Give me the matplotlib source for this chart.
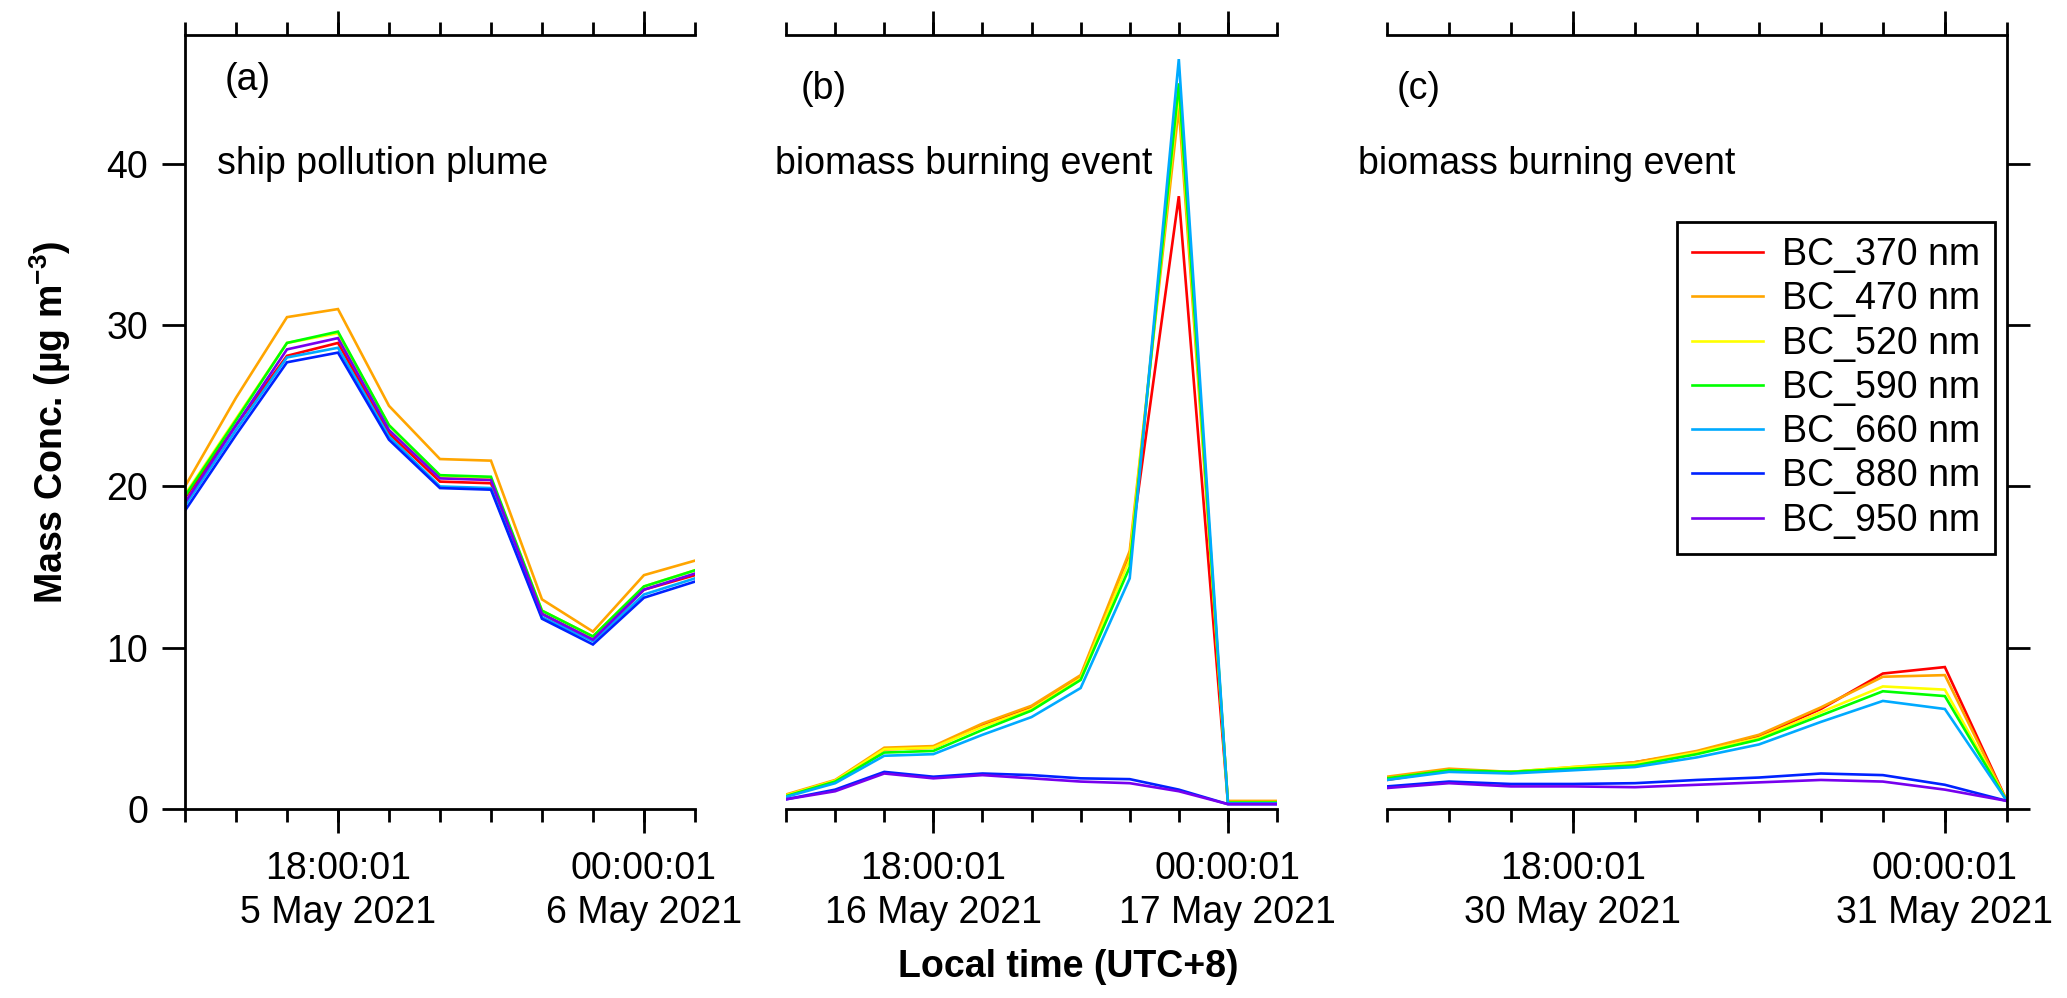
import matplotlib
matplotlib.use('Agg')
import matplotlib.pyplot as plt
import matplotlib.dates as mdates
from matplotlib import font_manager
import pandas as pd

# ---------------- data ----------------
wavelengths = ["BC_370 nm", "BC_470 nm", "BC_520 nm", "BC_590 nm", "BC_660 nm", "BC_880 nm", "BC_950 nm"]
colors = ["#FF0000", "#FFA500", "#FFFF00", "#00FF00", "#00AAFF", "#0022FF", "#7700EE"]

times_a = pd.date_range("2021-05-05 15:00", periods=11, freq="h")
times_b = pd.date_range("2021-05-16 15:00", periods=11, freq="h")
times_c = pd.date_range("2021-05-30 15:00", periods=11, freq="h")

bc370_a = [19.3, 23.8, 28.1, 28.9, 23.3, 20.3, 20.2, 12.1, 10.5, 13.6, 14.5]
bc470_a = [20.0, 25.5, 30.5, 31.0, 25.0, 21.7, 21.6, 13.0, 11.0, 14.5, 15.4]
bc520_a = [19.5, 24.2, 28.9, 29.5, 23.8, 20.6, 20.5, 12.3, 10.7, 13.8, 14.8]
bc590_a = [19.4, 24.1, 28.9, 29.6, 23.8, 20.7, 20.6, 12.3, 10.7, 13.8, 14.8]
bc660_a = [18.8, 23.5, 28.0, 28.6, 23.1, 20.0, 19.9, 11.9, 10.4, 13.3, 14.3]
bc880_a = [18.5, 23.2, 27.7, 28.3, 22.9, 19.9, 19.8, 11.8, 10.2, 13.1, 14.1]
bc950_a = [19.0, 23.8, 28.5, 29.2, 23.5, 20.5, 20.4, 12.1, 10.5, 13.6, 14.6]

bc370_b = [0.8, 1.7, 3.7, 3.8, 5.2, 6.3, 8.2, 15.8, 38.0, 0.4, 0.4]
bc470_b = [0.9, 1.8, 3.8, 3.9, 5.3, 6.4, 8.3, 16.0, 43.5, 0.5, 0.5]
bc520_b = [0.85, 1.75, 3.7, 3.8, 5.1, 6.2, 8.1, 15.5, 44.5, 0.4, 0.4]
bc590_b = [0.8, 1.7, 3.5, 3.6, 4.9, 6.1, 8.0, 15.0, 45.0, 0.4, 0.4]
bc660_b = [0.75, 1.6, 3.3, 3.4, 4.6, 5.7, 7.5, 14.3, 46.5, 0.35, 0.35]
bc880_b = [0.6, 1.2, 2.3, 2.0, 2.2, 2.1, 1.9, 1.85, 1.2, 0.3, 0.3]
bc950_b = [0.6, 1.1, 2.2, 1.9, 2.1, 1.9, 1.7, 1.6, 1.1, 0.3, 0.3]

bc370_c = [1.8, 2.4, 2.3, 2.5, 2.9, 3.5, 4.5, 6.2, 8.4, 8.8, 0.5]
bc470_c = [2.0, 2.5, 2.3, 2.6, 2.9, 3.6, 4.6, 6.3, 8.2, 8.3, 0.5]
bc520_c = [1.9, 2.4, 2.3, 2.6, 2.8, 3.5, 4.4, 6.0, 7.6, 7.4, 0.5]
bc590_c = [1.9, 2.4, 2.3, 2.5, 2.7, 3.4, 4.3, 5.8, 7.3, 7.0, 0.5]
bc660_c = [1.8, 2.3, 2.2, 2.4, 2.6, 3.2, 4.0, 5.4, 6.7, 6.2, 0.5]
bc880_c = [1.4, 1.7, 1.55, 1.55, 1.6, 1.8, 1.95, 2.2, 2.1, 1.5, 0.5]
bc950_c = [1.3, 1.6, 1.4, 1.4, 1.35, 1.5, 1.65, 1.8, 1.7, 1.2, 0.5]

series_a = [bc370_a, bc470_a, bc520_a, bc590_a, bc660_a, bc880_a, bc950_a]
series_b = [bc370_b, bc470_b, bc520_b, bc590_b, bc660_b, bc880_b, bc950_b]
series_c = [bc370_c, bc470_c, bc520_c, bc590_c, bc660_c, bc880_c, bc950_c]

major_a = ["2021-05-05 18:00:01", "2021-05-06 00:00:01"]
major_b = ["2021-05-16 18:00:01", "2021-05-17 00:00:01"]
major_c = ["2021-05-30 18:00:01", "2021-05-31 00:00:01"]
labels_a = ["18:00:01\n5 May 2021", "00:00:01\n6 May 2021"]
labels_b = ["18:00:01\n16 May 2021", "00:00:01\n17 May 2021"]
labels_c = ["18:00:01\n30 May 2021", "00:00:01\n31 May 2021"]

panel_tags = ["(a)", "(b)", "(c)"]
panel_titles = ["ship pollution plume", "biomass burning event", "biomass burning event"]
yticks = [0, 10, 20, 30, 40]

# ---------------- style ----------------
names = {f.name for f in font_manager.fontManager.ttflist}
base_font = "Liberation Sans" if "Liberation Sans" in names else "DejaVu Sans"
plt.rcParams['font.family'] = [base_font, 'DejaVu Sans']
plt.rcParams['mathtext.fontset'] = 'custom'
plt.rcParams['mathtext.rm'] = base_font
plt.rcParams['mathtext.bf'] = base_font + ':bold'

FS = 27
LW_AX = 2.0

fig = plt.figure(figsize=(20.67, 9.98), dpi=100)
positions = [[0.0895, 0.1894, 0.2467, 0.7756],
             [0.3803, 0.1894, 0.2375, 0.7756],
             [0.6710, 0.1894, 0.2999, 0.7756]]
times_list = [times_a, times_b, times_c]
series_list = [series_a, series_b, series_c]
majors = [major_a, major_b, major_c]
labels = [labels_a, labels_b, labels_c]
tag_x = [0.078, 0.029, 0.016]
tag_y = [0.942, 0.93, 0.93]
title_x = [0.063, -0.022, -0.047]

axes = []
for i in range(3):
    ax = fig.add_axes(positions[i])
    axes.append(ax)
    t = times_list[i]
    for vals, col, lab in zip(series_list[i], colors, wavelengths):
        ax.plot(t, vals, color=col, lw=1.9, label=lab, solid_joinstyle='miter')
    ax.set_xlim(t[0], t[-1])
    ax.set_ylim(0, 48)
    ax.xaxis.set_minor_locator(mdates.HourLocator())
    ax.set_xticks(pd.to_datetime(majors[i]))
    ax.set_xticklabels(labels[i], fontsize=FS, linespacing=1.3)
    ax.tick_params(axis='x', which='major', direction='out', length=17, width=LW_AX,
                   top=True, bottom=True, pad=13)
    ax.tick_params(axis='x', which='minor', direction='out', length=9.4, width=LW_AX,
                   top=True, bottom=True)
    for s in ax.spines.values():
        s.set_linewidth(LW_AX)
    ax.spines['right'].set_visible(i == 2)
    ax.spines['left'].set_visible(i == 0)
    ax.set_yticks(yticks)
    if i == 0:
        ax.tick_params(axis='y', direction='out', length=16.5, width=LW_AX,
                       labelsize=FS, left=True, right=False, pad=10)
    elif i == 1:
        ax.tick_params(axis='y', left=False, right=False, labelleft=False)
    else:
        ax.tick_params(axis='y', direction='out', length=16.5, width=LW_AX,
                       left=False, right=True, labelleft=False, labelright=False)
    ax.text(tag_x[i], tag_y[i], panel_tags[i], transform=ax.transAxes, fontsize=FS,
            ha='left', va='center')
    ax.text(title_x[i], 40, panel_titles[i], transform=ax.get_yaxis_transform(),
            fontsize=FS, ha='left', va='center')
    ax.set_facecolor('none')

axes[0].set_ylabel(r'Mass Conc. (µg m$^{\mathbf{-3}}$)', fontsize=FS, fontweight='bold', labelpad=24)
fig.text(0.517, 0.021, 'Local time (UTC+8)', fontsize=FS, fontweight='bold',
         ha='center', va='baseline')

leg = axes[2].legend(loc='upper right', bbox_to_anchor=(0.981, 0.758), fontsize=FS,
                     frameon=True, fancybox=False, edgecolor='black', framealpha=1,
                     handlelength=1.9, handletextpad=0.5, labelspacing=0.22,
                     borderpad=0.4, borderaxespad=0.0)
leg.get_frame().set_linewidth(LW_AX)
for h in leg.get_lines():
    h.set_linewidth(1.9)

fig.savefig('out.png', dpi=100, facecolor='white')
